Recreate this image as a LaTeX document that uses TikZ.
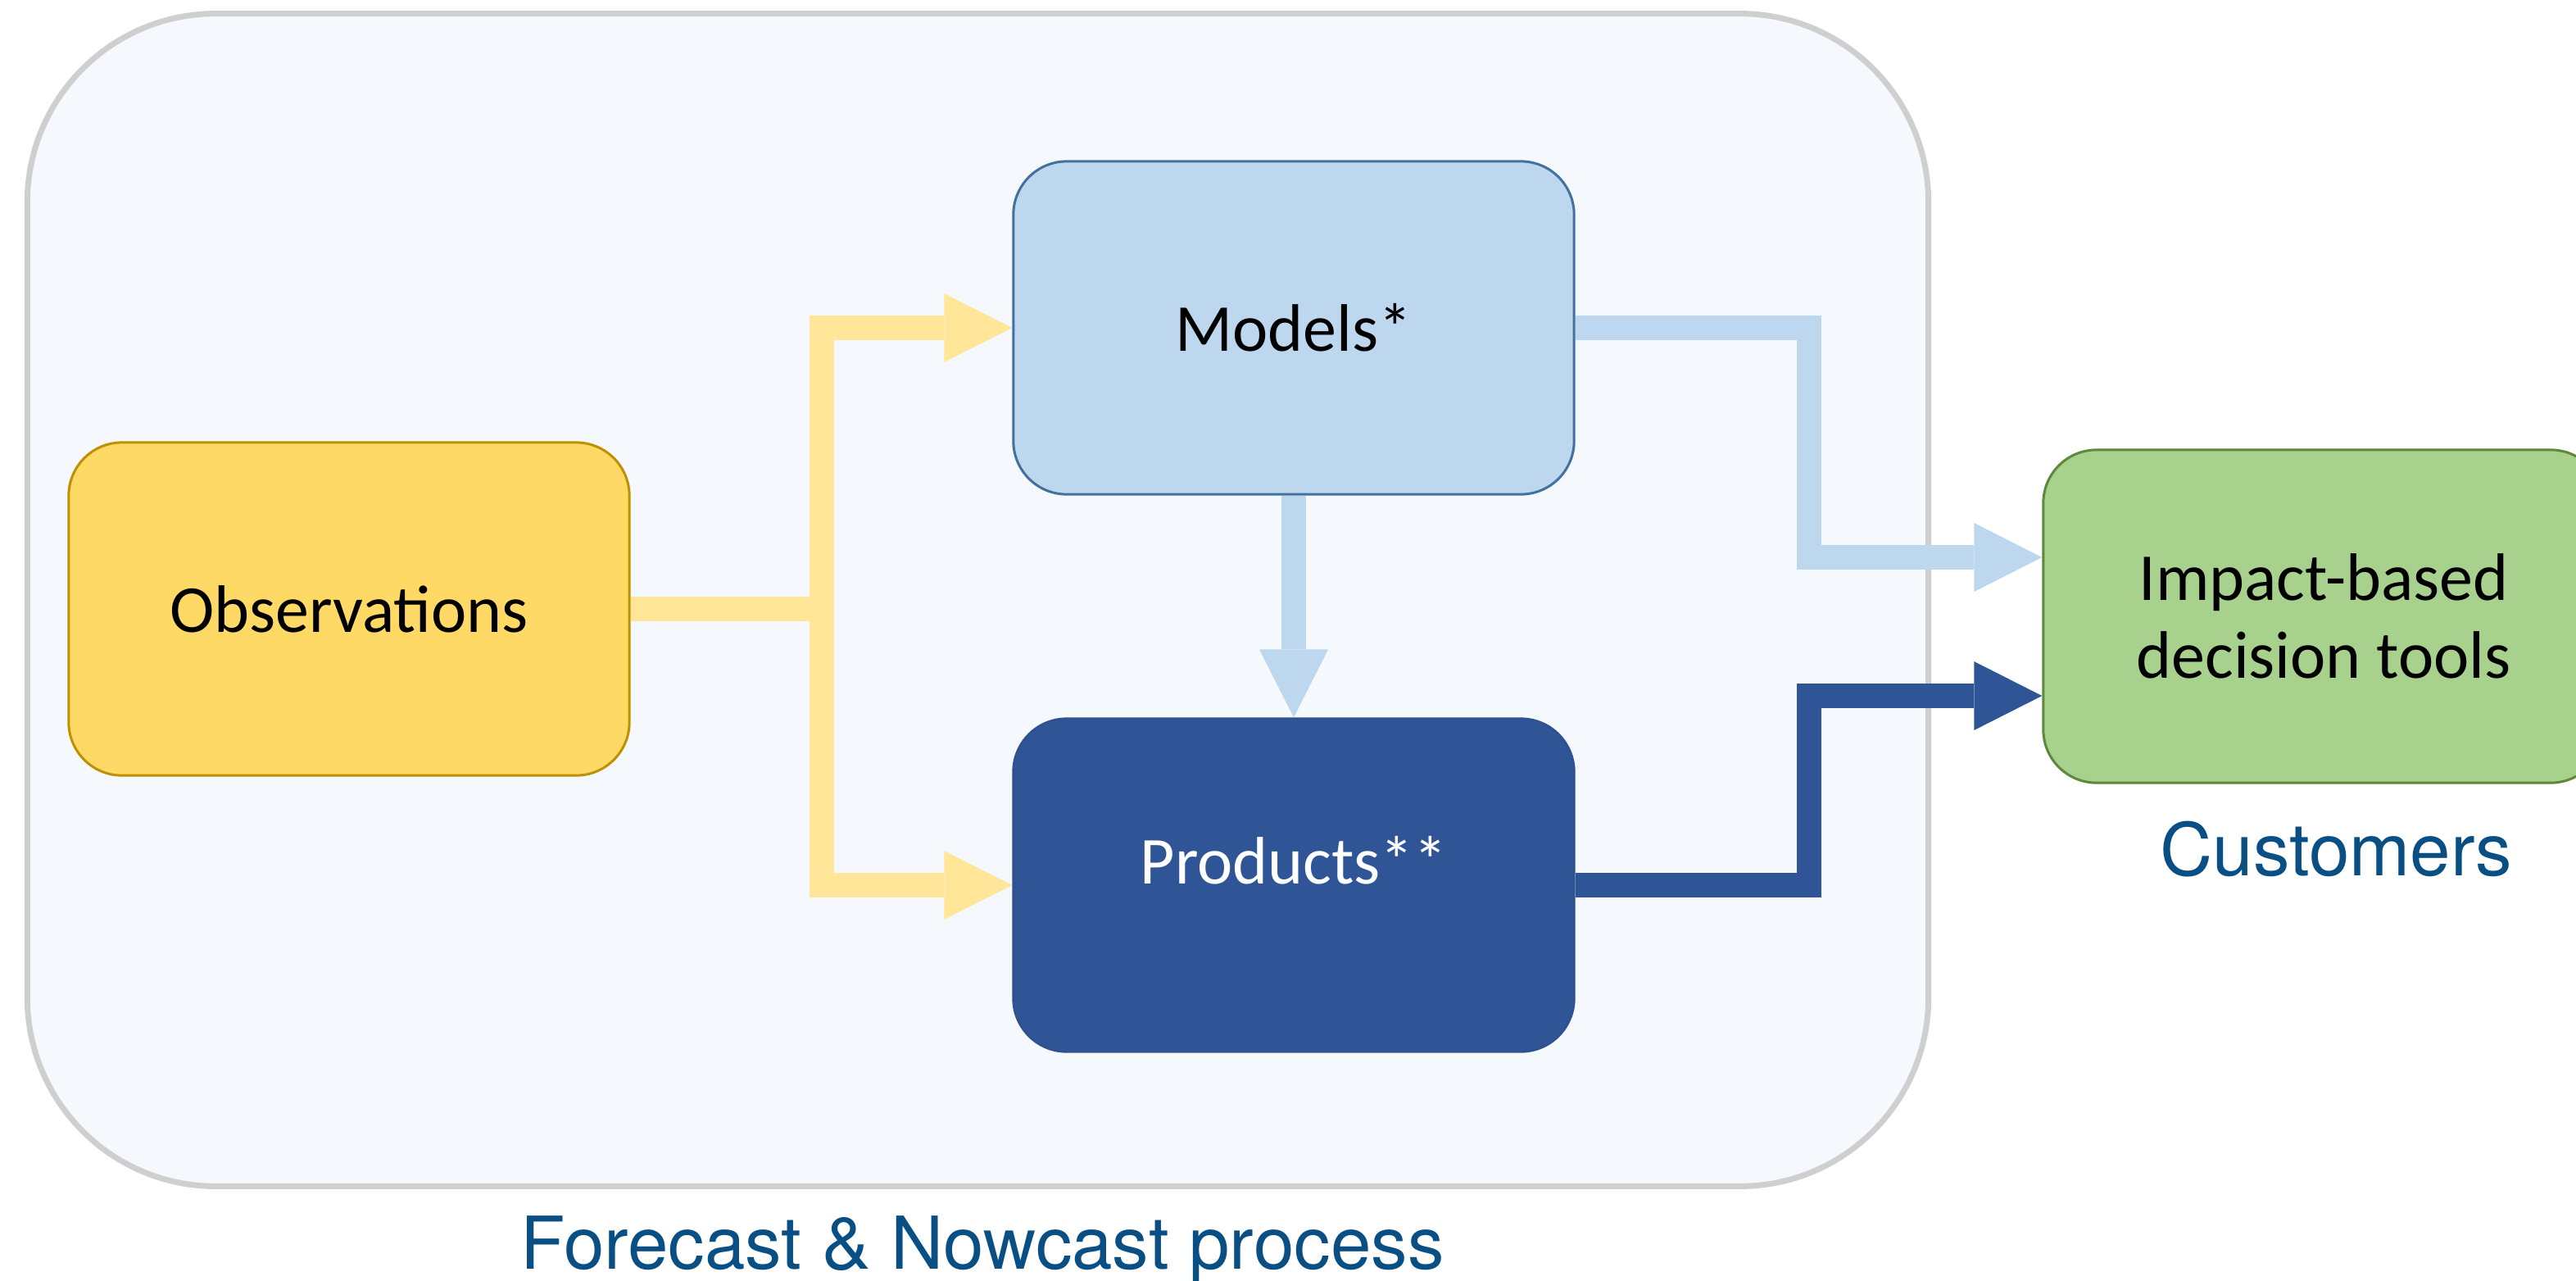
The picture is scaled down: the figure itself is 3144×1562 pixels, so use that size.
\documentclass[tikz,border=0pt]{standalone}
\usepackage{fontspec}
\setmainfont{Carlito}
\newfontfamily\capfont{TeX Gyre Heros}
\usetikzlibrary{arrows.meta,calc,positioning}
\definecolor{outerfill}{HTML}{F5F9FD}
\definecolor{outerdraw}{HTML}{CFCFCF}
\definecolor{obsfill}{HTML}{FFD966}
\definecolor{obsdraw}{HTML}{BF9000}
\definecolor{yarrow}{HTML}{FFE699}
\definecolor{modfill}{HTML}{BDD7EE}
\definecolor{moddraw}{HTML}{41719C}
\definecolor{lbarrow}{HTML}{BDD7EE}
\definecolor{prodfill}{HTML}{2F5597}
\definecolor{proddraw}{HTML}{2F528F}
\definecolor{dbarrow}{HTML}{2F5597}
\definecolor{toolfill}{HTML}{A9D18E}
\definecolor{tooldraw}{HTML}{5B8A3C}
\definecolor{capcol}{HTML}{0A4F84}
\begin{document}
\begin{tikzpicture}[x=0.01cm,y=-0.01cm,
  outerbox/.style={draw=outerdraw,fill=outerfill,line width=0.07cm,rounded corners=2.3cm,
    minimum width=23.19cm,minimum height=14.30cm,inner sep=0pt},
  stepbox/.style={rectangle,rounded corners=0.65cm,line width=0.03cm,
    minimum width=6.84cm,minimum height=4.06cm,inner sep=0pt,align=center,
    font=\fontsize{23.3}{27.2}\selectfont},
  boxtext/.style={inner sep=0pt,font=\fontsize{23.3}{27.2}\selectfont},
  caption/.style={inner sep=0pt,anchor=base,text=capcol,font=\capfont\fontsize{25.3}{30}\selectfont},
  flow/.style={line width=0.30cm,line join=miter,
    -{Triangle[length=0.83cm,width=0.84cm,line width=0pt]}}
]
\useasboundingbox (0,0) rectangle (3144,1562);
\fill[white] (0,0) rectangle (3144,1562);

% outer process box
\node[outerbox] (process) at (1193.5,732) {};

% boxes
\node[stepbox,fill=obsfill,draw=obsdraw] (obs) at (426,743) {Observations};
\node[stepbox,fill=modfill,draw=moddraw] (models) at (1579,400) {Models*};
\node[stepbox,fill=prodfill,draw=proddraw] (products) at (1579,1080) {};
\node[boxtext,text=white] (prodtext) at (1579,1050) {Products**};
\node[stepbox,fill=toolfill,draw=tooldraw] (tools) at (2836,752) {Impact-based\\decision tools};

% captions
\node[caption] (proccap) at (1199,1548) {Forecast \& Nowcast process};
\node[caption] (custcap) at (2851,1068) {Customers};

% helper coordinates
\coordinate (ysplit) at (1003,743);
\coordinate (bx) at (2208,0);
\coordinate (lbend) at ($(tools.west)+(0,-72)$);
\coordinate (dbend) at ($(tools.west)+(0,97)$);

% yellow arrows
\draw[flow,draw=yarrow] (obs.east) -- (ysplit) |- (models.west);
\draw[flow,draw=yarrow] (ysplit) |- (products.west);

% models -> products
\draw[flow,draw=lbarrow] (models.south) -- (products.north);

% models -> tools
\draw[flow,draw=lbarrow] (models.east) -| (bx |- lbend) -- (lbend);

% products -> tools
\draw[flow,draw=dbarrow] (products.east) -| (bx |- dbend) -- (dbend);
\end{tikzpicture}
\end{document}
